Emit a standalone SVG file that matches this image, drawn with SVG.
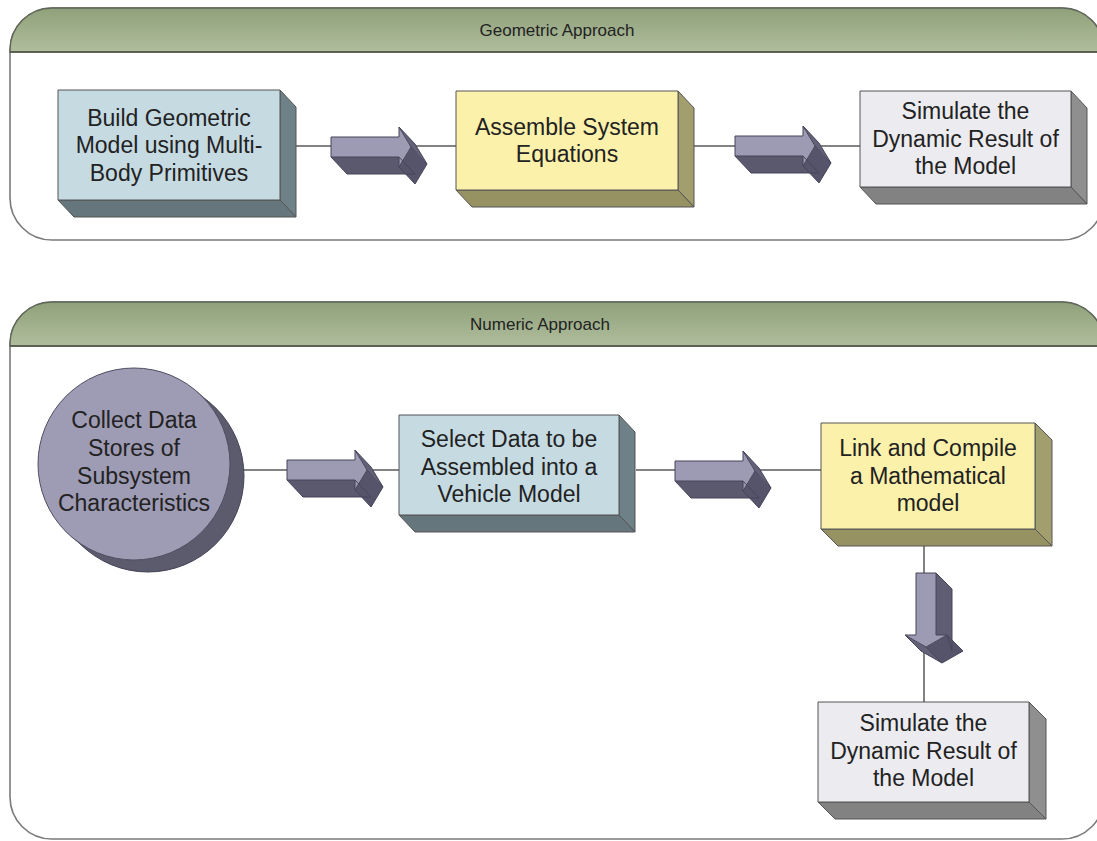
<svg xmlns="http://www.w3.org/2000/svg" width="1097" height="841" viewBox="0 0 1097 841">
  <defs>
    <linearGradient id="hdr" x1="0" y1="0" x2="0" y2="1">
      <stop offset="0" stop-color="#8fa17a"/>
      <stop offset="1" stop-color="#b0bd9d"/>
    </linearGradient>
    <!-- 3D block arrow pointing right; origin = top-left of the shaft -->
    <g id="arrowRight">
      <polygon points="0,20 68,20 84,37 16,37" fill="#5a596d"/>
      <polygon points="80,10 68,30 84,47 96,27" fill="#55546a"/>
      <polygon points="68,-10 80,10 96,27 84,7" fill="#626177"/>
      <polygon points="0,0 68,0 68,-10 80,10 68,30 68,20 0,20" fill="#9d9bb3"/>
      <path d="M0,0 L68,0 L68,-10 L80,10 L68,30 L68,20 L0,20 Z M68,20 L84,37 L16,37 L0,20 M80,10 L96,27 L84,47 L68,30 M68,-10 L84,7 L96,27" fill="none" stroke="#46455a" stroke-width="1" stroke-linejoin="round"/>
    </g>
    <!-- 3D block arrow pointing down; origin = top-left of the shaft -->
    <g id="arrowDown">
      <polygon points="20,0 36,16 36,78 20,62" fill="#5e5d72"/>
      <polygon points="31,62 47,78 26,90 10,74" fill="#55546a"/>
      <polygon points="10,74 26,90 5,78 -11,62" fill="#626177"/>
      <polygon points="0,0 20,0 20,62 31,62 10,74 -11,62 0,62" fill="#9d9bb3"/>
      <path d="M0,0 L20,0 L20,62 L31,62 L10,74 L-11,62 L0,62 Z M20,0 L36,16 L36,78 L31,62 M31,62 L47,78 L26,90 L10,74 M26,90 L5,78 L-11,62" fill="none" stroke="#46455a" stroke-width="1" stroke-linejoin="round"/>
    </g>
  </defs>
  <style>
    .panel { fill: #ffffff; stroke: #7a7a7a; stroke-width: 1.6; }
    .hdr { fill: url(#hdr); stroke: #5f6658; stroke-width: 1.4; }
    .hdrline { stroke: #4f5648; stroke-width: 1.6; }
    .hdrtxt { font-family: "Liberation Sans", Arial, sans-serif; font-size: 17px; fill: #222; text-anchor: middle; }
    .lbl { font-family: "Liberation Sans", Arial, sans-serif; font-size: 23px; fill: #222; text-anchor: middle; }
    .edge { stroke: #555; stroke-width: 1; stroke-linejoin: round; }
    .blue .front { fill: #c6dae2; }
    .blue .side { fill: #6f8188; }
    .blue .bottom { fill: #66767d; }
    .yellow .front { fill: #fcf1ab; }
    .yellow .side { fill: #a29e6e; }
    .yellow .bottom { fill: #979261; }
    .grey .front { fill: #ebebf0; }
    .grey .side { fill: #8f8f8f; }
    .grey .bottom { fill: #828282; }
    .conn { stroke: #5a5a5a; stroke-width: 1.5; fill: none; }
  </style>

  <!-- Panel: Geometric Approach -->
  <g id="panel-geometric">
    <rect class="panel" x="10" y="8" width="1094" height="232" rx="42" ry="42"/>
    <path class="hdr" d="M10,52 L10,50 A42,42 0 0 1 52,8 L1062,8 A42,42 0 0 1 1104,50 L1104,52 Z"/>
    <line class="hdrline" x1="10" y1="52" x2="1104" y2="52"/>
    <text class="hdrtxt" x="557" y="36">Geometric Approach</text>
  </g>

  <!-- Panel: Numeric Approach -->
  <g id="panel-numeric">
    <rect class="panel" x="10" y="302" width="1094" height="537" rx="42" ry="42"/>
    <path class="hdr" d="M10,346 L10,344 A42,42 0 0 1 52,302 L1062,302 A42,42 0 0 1 1104,344 L1104,346 Z"/>
    <line class="hdrline" x1="10" y1="346" x2="1104" y2="346"/>
    <text class="hdrtxt" x="540" y="330">Numeric Approach</text>
  </g>

  <!-- Connectors -->
  <g id="connectors">
    <line class="conn" x1="296" y1="146" x2="456" y2="146"/>
    <line class="conn" x1="694" y1="146" x2="860" y2="146"/>
    <line class="conn" x1="240" y1="470" x2="399" y2="470"/>
    <line class="conn" x1="636" y1="470" x2="821" y2="470"/>
    <line class="conn" x1="924" y1="546" x2="924" y2="702"/>
    <use href="#arrowRight" transform="translate(331,137)"/>
    <use href="#arrowRight" transform="translate(735,136)"/>
    <use href="#arrowRight" transform="translate(287,460)"/>
    <use href="#arrowRight" transform="translate(675,461)"/>
    <use href="#arrowDown" transform="translate(916,573)"/>
  </g>

  <!-- Geometric: build model -->
  <g id="build-geometric" class="blue">
    <polygon class="side edge" points="280,90 296,107 296,217 280,200"/>
    <polygon class="bottom edge" points="58,200 280,200 296,217 74,217"/>
    <rect class="front edge" x="58" y="90" width="222" height="110"/>
    <text class="lbl" x="169" y="125.5">Build Geometric</text>
    <text class="lbl" x="169" y="153">Model using Multi-</text>
    <text class="lbl" x="169" y="180.5">Body Primitives</text>
  </g>

  <!-- Geometric: assemble equations -->
  <g id="assemble-equations" class="yellow">
    <polygon class="side edge" points="678,91 694,108 694,207 678,190"/>
    <polygon class="bottom edge" points="456,190 678,190 694,207 472,207"/>
    <rect class="front edge" x="456" y="91" width="222" height="99"/>
    <text class="lbl" x="567" y="134.5">Assemble System</text>
    <text class="lbl" x="567" y="162">Equations</text>
  </g>

  <!-- Geometric: simulate -->
  <g id="simulate-geometric" class="grey">
    <polygon class="side edge" points="1071,91 1087,108 1087,204 1071,187"/>
    <polygon class="bottom edge" points="860,187 1071,187 1087,204 876,204"/>
    <rect class="front edge" x="860" y="91" width="211" height="96"/>
    <text class="lbl" x="965.5" y="119">Simulate the</text>
    <text class="lbl" x="965.5" y="146.5">Dynamic Result of</text>
    <text class="lbl" x="965.5" y="174">the Model</text>
  </g>

  <!-- Numeric: data stores (disc) -->
  <g id="collect-data">
    <circle cx="148" cy="476" r="96" fill="#5c5b6e" stroke="#454456" stroke-width="1"/>
    <polygon points="71.5,536.9 196.5,391.1 210.5,403.1 85.5,548.9" fill="#5c5b6e"/>
    <circle cx="134" cy="464" r="96" fill="#9e9bb4" stroke="#4f4e60" stroke-width="1"/>
    <text class="lbl" x="134" y="428">Collect Data</text>
    <text class="lbl" x="134" y="456">Stores of</text>
    <text class="lbl" x="134" y="484">Subsystem</text>
    <text class="lbl" x="134" y="511">Characteristics</text>
  </g>

  <!-- Numeric: select data -->
  <g id="select-data" class="blue">
    <polygon class="side edge" points="619,415 635,432 635,532 619,515"/>
    <polygon class="bottom edge" points="399,515 619,515 635,532 415,532"/>
    <rect class="front edge" x="399" y="415" width="220" height="100"/>
    <text class="lbl" x="509" y="447">Select Data to be</text>
    <text class="lbl" x="509" y="475">Assembled into a</text>
    <text class="lbl" x="509" y="502">Vehicle Model</text>
  </g>

  <!-- Numeric: link and compile -->
  <g id="link-compile" class="yellow">
    <polygon class="side edge" points="1035,423 1052,440 1052,546 1035,529"/>
    <polygon class="bottom edge" points="821,529 1035,529 1052,546 838,546"/>
    <rect class="front edge" x="821" y="423" width="214" height="106"/>
    <text class="lbl" x="928" y="456">Link and Compile</text>
    <text class="lbl" x="928" y="484">a Mathematical</text>
    <text class="lbl" x="928" y="511">model</text>
  </g>

  <!-- Numeric: simulate -->
  <g id="simulate-numeric" class="grey">
    <polygon class="side edge" points="1029,702 1046,719 1046,819 1029,802"/>
    <polygon class="bottom edge" points="818,802 1029,802 1046,819 835,819"/>
    <rect class="front edge" x="818" y="702" width="211" height="100"/>
    <text class="lbl" x="923.5" y="731">Simulate the</text>
    <text class="lbl" x="923.5" y="759">Dynamic Result of</text>
    <text class="lbl" x="923.5" y="786">the Model</text>
  </g>
</svg>
